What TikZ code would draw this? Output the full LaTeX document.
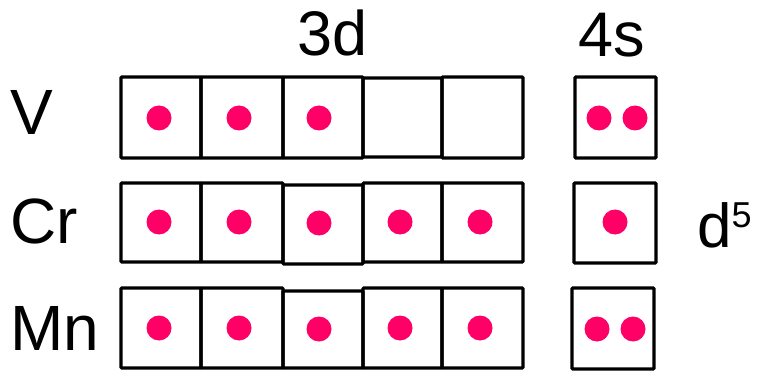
\documentclass[tikz,border=0pt]{standalone}
\usepackage{fontspec}
\setmainfont{Liberation Sans}
\definecolor{dotpink}{HTML}{FF0066}
\begin{document}
\begin{tikzpicture}[x=1pt,y=-1pt,
  orb/.style={draw=black,line width=3.2pt,rounded corners=1pt,inner sep=0pt},
  el/.style={fill=dotpink,circle,inner sep=0pt,minimum size=25pt},
  lab/.style={inner sep=0pt,anchor=base west,font=\fontsize{64}{70}\selectfont},
  hdr/.style={inner sep=0pt,anchor=base,font=\fontsize{63}{70}\selectfont}]
\useasboundingbox (0,0) rectangle (759,371);
% headers
\node[hdr] (h3d) at (333,56) {3d};
\node[hdr] (h4s) at (612,57) {4s};
% element labels
\node[lab] (lV) at (10,135) {V};
\node[lab] (lCr) at (10,243) {Cr};
\node[lab] (lMn) at (10,350) {Mn};
\node[inner sep=0pt,anchor=base west,font=\fontsize{62}{70}\selectfont] (d5) at (697,247) {d\raisebox{20pt}{\fontsize{36}{40}\selectfont 5}};
% V row
\draw[orb] (121,77) rectangle (201,158) coordinate (v1);
\draw[orb] (201,77) rectangle (283,158);
\draw[orb] (283,77) rectangle (363,158);
\draw[orb] (363,78) rectangle (442,157);
\draw[orb] (442,77) rectangle (523,158);
\draw[orb] (575,77) rectangle (656,158);
\node[el] (vd1) at (159,118) {};
\node[el] (vd2) at (239,118) {};
\node[el] (vd3) at (319,118) {};
\node[el] (vs1) at (599,118) {};
\node[el] (vs2) at (635,118) {};
% Cr row
\draw[orb] (121,183) rectangle (201,262);
\draw[orb] (201,183) rectangle (283,262);
\draw[orb] (283,185) rectangle (363,264);
\draw[orb] (363,183) rectangle (442,262);
\draw[orb] (442,183) rectangle (523,262);
\draw[orb] (574,183) rectangle (656,263);
\node[el] (cd1) at (159,222) {};
\node[el] (cd2) at (239,222) {};
\node[el] (cd3) at (319,223) {};
\node[el] (cd4) at (400,222) {};
\node[el] (cd5) at (480,222) {};
\node[el] (cs1) at (615,222) {};
% Mn row
\draw[orb] (121,288) rectangle (201,368);
\draw[orb] (201,288) rectangle (283,368);
\draw[orb] (283,291) rectangle (363,368);
\draw[orb] (363,288) rectangle (442,368);
\draw[orb] (442,288) rectangle (523,368);
\draw[orb] (572,288) rectangle (654,369);
\node[el] (md1) at (159,328) {};
\node[el] (md2) at (239,328) {};
\node[el] (md3) at (319,329) {};
\node[el] (md4) at (400,328) {};
\node[el] (md5) at (480,328) {};
\node[el] (ms1) at (597,329) {};
\node[el] (ms2) at (633,329) {};
\end{tikzpicture}
\end{document}
